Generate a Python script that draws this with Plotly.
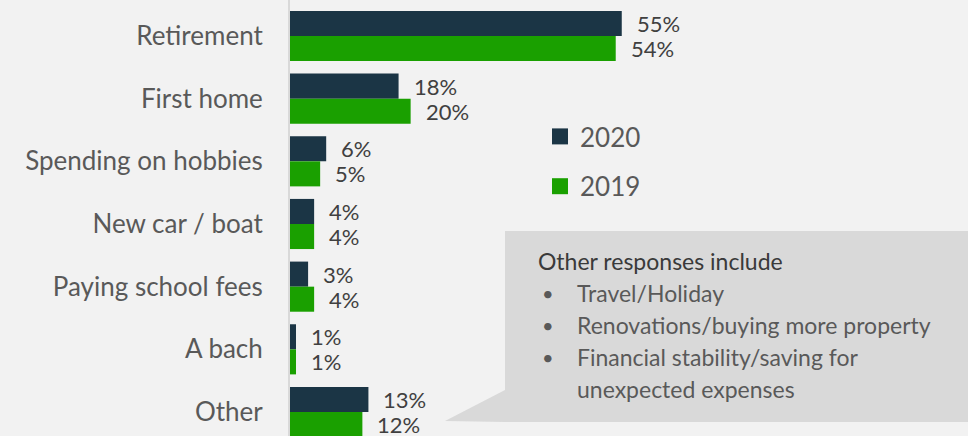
import plotly.graph_objects as go

# Savings goals by category, share of respondents (%)
categories = ["Retirement", "First home", "Spending on hobbies", "New car / boat",
              "Paying school fees", "A bach", "Other"]
values_2020 = [55, 18, 6, 4, 3, 1, 13]
values_2019 = [54, 20, 5, 4, 4, 1, 12]
series_names = ["2020", "2019"]

callout_title = "Other responses include"
callout_items = ["Travel/Holiday", "Renovations/buying more property",
                 "Financial stability/saving for", "unexpected expenses"]
callout_bullets = [True, True, True, False]

DARK = "#1b3545"
GREEN = "#1aa000"
BG = "#f2f2f2"
TEXT = "#595959"
LABEL = "#404040"
FONT = "Lato"

W, H = 968, 436
ML = 290


def px_x(p):
    return (p - ML) / (W - ML)


def px_y(p):
    return 1 - p / H


fig = go.Figure()
for name, vals, col in [(series_names[0], values_2020, DARK), (series_names[1], values_2019, GREEN)]:
    fig.add_trace(go.Bar(
        y=categories, x=vals, name=name, orientation="h",
        marker=dict(color=col, line=dict(width=0)),
        showlegend=False, hoverinfo="skip",
    ))
    # legend entry with a larger square swatch
    fig.add_trace(go.Scatter(
        x=[None], y=[None], mode="markers", name=name, legendgroup=name,
        marker=dict(symbol="square", size=16, color=col), hoverinfo="skip",
    ))

# value labels beside each bar
annotations = []
for vals, shift in [(values_2020, 12.5), (values_2019, -12.5)]:
    for cat, v in zip(categories, vals):
        annotations.append(dict(
            x=v, y=cat, xref="x", yref="y", text=f"{v}%", showarrow=False,
            xanchor="left", yanchor="middle", xshift=13, yshift=shift,
            font=dict(family=FONT, size=22, color=LABEL),
        ))

# callout box listing other responses
annotations.append(dict(
    x=px_x(536), y=px_y(261), xref="paper", yref="paper", text=callout_title,
    showarrow=False, xanchor="left", yanchor="middle",
    font=dict(family=FONT, size=23, color="#3a3a3a"),
))
for i, (item, has_bullet) in enumerate(zip(callout_items, callout_bullets)):
    yc = px_y(293 + i * 32)
    if has_bullet:
        annotations.append(dict(
            x=px_x(540), y=yc, xref="paper", yref="paper", text="•",
            showarrow=False, xanchor="left", yanchor="middle",
            font=dict(family=FONT, size=20, color=TEXT),
        ))
    annotations.append(dict(
        x=px_x(575), y=yc, xref="paper", yref="paper", text=item,
        showarrow=False, xanchor="left", yanchor="middle",
        font=dict(family=FONT, size=23, color=TEXT),
    ))

pts = [(445, 421), (505, 390), (505, 231), (968, 231), (968, 422), (505, 422)]
path = "M " + " L ".join(f"{px_x(a):.5f},{px_y(b):.5f}" for a, b in pts) + " Z"

fig.update_layout(
    width=W, height=H,
    margin=dict(l=ML, r=0, t=0, b=0),
    paper_bgcolor=BG, plot_bgcolor=BG,
    barmode="group", bargap=0.2, bargroupgap=0,
    font=dict(family=FONT, color=TEXT),
    xaxis=dict(range=[0, 112.4], showgrid=False, zeroline=False,
               showticklabels=False, showline=False, fixedrange=True),
    yaxis=dict(range=[6.383, -0.574], showgrid=False, zeroline=False,
               showline=True, linecolor="#d9d9d9", linewidth=2,
               ticks="", ticklabelstandoff=20,
               tickfont=dict(family=FONT, size=26, color=TEXT)),
    legend=dict(x=px_x(540), y=px_y(161.5), xanchor="left", yanchor="middle",
                traceorder="grouped", tracegroupgap=13,
                bgcolor="rgba(0,0,0,0)",
                font=dict(family=FONT, size=26, color=TEXT)),
    shapes=[dict(type="path", path=path, xref="paper", yref="paper",
                 fillcolor="#d9d9d9", line=dict(width=0), layer="below")],
    annotations=annotations,
)

fig.write_html("out.html")
